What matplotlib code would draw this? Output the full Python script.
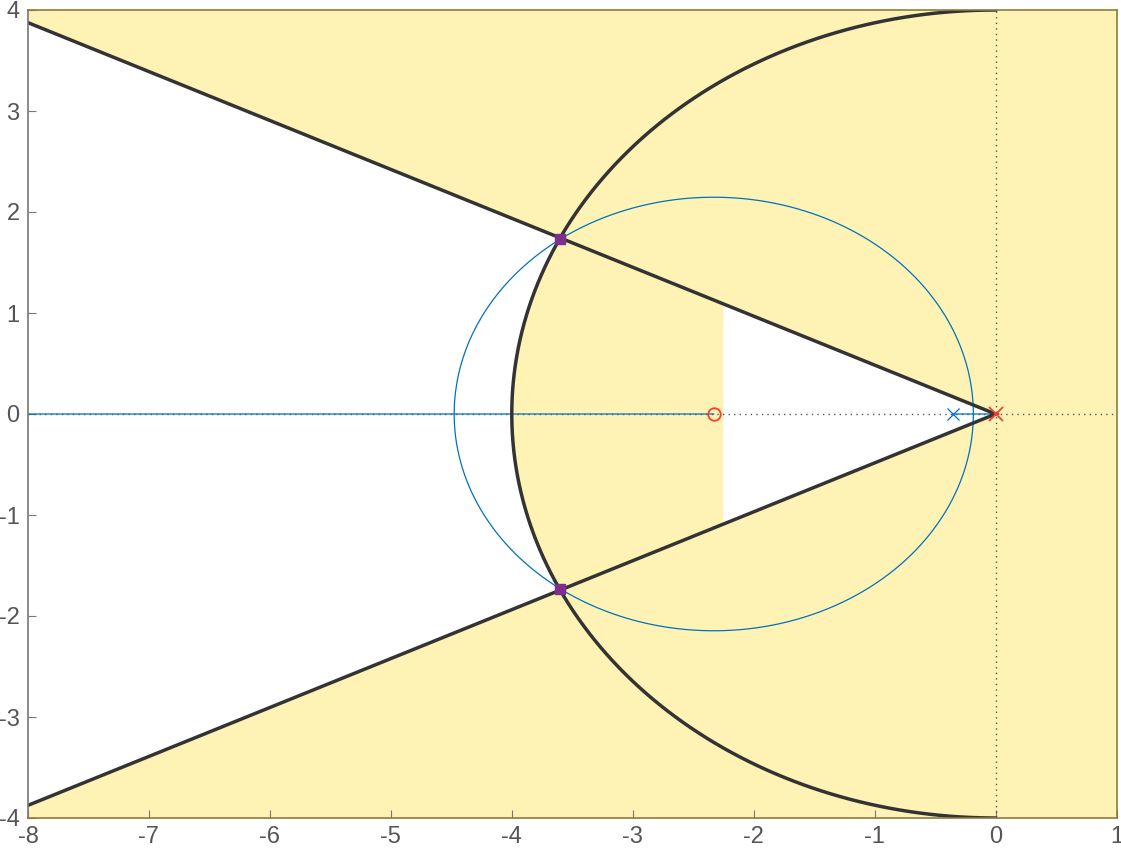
import numpy as np
import matplotlib
matplotlib.use('Agg')
import matplotlib.pyplot as plt

# open-loop model
comp_pole = [0.0]
comp_zero = [-2.33]
plant_pole = [-0.353]
gain = 6.85

# design requirements
zeta = 0.9          # damping ratio bound
wn = 4.0            # natural frequency bound
sigma = -2.25       # settling time bound (real part)

xticks = [-8, -7, -6, -5, -4, -3, -2, -1, 0, 1]
yticks = [-4, -3, -2, -1, 0, 1, 2, 3, 4]

yellow = '#FFF2B5'
olive = '#8C7C3C'
dark = '#333333'
blue = '#0072BD'
red = '#FF3B30'
purple = '#7E2F8E'

plt.rcParams['font.family'] = ['Liberation Sans', 'DejaVu Sans']
plt.rcParams['xtick.labelsize'] = 17
plt.rcParams['ytick.labelsize'] = 17

fig = plt.figure(figsize=(11.21, 8.48), dpi=100)
ax = fig.add_axes([28 / 1121, 1 - 818 / 848, (1116.5 - 28) / 1121, (818 - 10) / 848])
ax.set_xlim(-8, 1)
ax.set_ylim(-4, 4)
ax.set_facecolor(yellow)

# white (allowed) regions
th = np.arccos(zeta)
slope = np.tan(th)
xl = -8
ang_c = np.pi - th
arc = np.linspace(ang_c, 2 * np.pi - ang_c, 200)
wx = [xl] + list(wn * np.cos(arc)) + [xl]
wy = [-xl * slope] + list(wn * np.sin(arc)) + [xl * slope]
ax.fill(wx, wy, color='white', lw=0, zorder=1)
ax.fill([0, sigma, sigma], [0, -sigma * slope, sigma * slope], color='white', lw=0, zorder=1)

# reference dotted axes
ax.axhline(0, color='#555555', ls=(0, (1, 3)), lw=1, zorder=2)
ax.axvline(0, color='#555555', ls=(0, (1, 3)), lw=1, zorder=2)

# root locus
den = np.poly(comp_pole + plant_pole)
num = np.concatenate([[0] * 1, np.poly(comp_zero)])
# gains where the two branches meet (discriminant of the char. polynomial = 0)
d1, d0 = den[1], den[2]
n0 = num[2]
k_meet = np.roots([1, 2 * d1 - 4 * n0, d1 ** 2 - 4 * d0]).real
ks = np.concatenate([np.logspace(-5, 4, 6000), k_meet])
for km in k_meet:
    ks = np.concatenate([ks, km * (1 + np.linspace(-0.05, 0.05, 401))])
ks = np.unique(ks[ks >= 0])
br_a, br_b = [], []
for k in ks:
    r = np.roots(np.polyadd(den, k * num))
    if abs(r[0].imag) > 1e-9:
        r = sorted(r, key=lambda z: -z.imag)
    else:
        r = sorted(r, key=lambda z: -z.real)
    br_a.append(r[0])
    br_b.append(r[1])
br_a = np.array(br_a)
br_b = np.array(br_b)
ax.plot(br_a.real, br_a.imag, color=blue, lw=0.9, zorder=3)
ax.plot(br_b.real, br_b.imag, color=blue, lw=0.9, zorder=3)

# requirement boundaries
ax.plot([xl, 0, xl], [-xl * slope, 0, xl * slope], color=dark, lw=2.5, zorder=4,
        solid_joinstyle='miter')
arc2 = np.linspace(np.pi / 2, 3 * np.pi / 2, 300)
ax.plot(wn * np.cos(arc2), wn * np.sin(arc2), color=dark, lw=2.5, zorder=4)

# poles / zeros
ax.plot(plant_pole, [0], 'x', color=blue, ms=8, mew=0.9, zorder=5)
ax.plot(comp_pole, [0], 'x', color=red, ms=10, mew=1.3, zorder=5)
ax.plot(comp_zero, [0], 'o', color=red, mfc='none', ms=9, mew=1.3, zorder=5)

# closed-loop poles
cl = np.roots(np.polyadd(den, gain * num))
ax.plot(cl.real, cl.imag, 's', color=purple, ms=7, zorder=6)

ax.set_xticks(xticks)
ax.set_yticks(yticks)
ax.set_xticklabels([str(t) for t in xticks])
ax.set_yticklabels([str(t) for t in yticks])
ax.tick_params(direction='in', length=6, color='#777777', labelcolor='#555555',
               top=False, right=False)
ax.tick_params(axis='x', pad=6)
ax.tick_params(axis='y', pad=6)
for s in ['top', 'right', 'bottom']:
    ax.spines[s].set_color(olive)
ax.spines['left'].set_color('#777777')
for s in ax.spines.values():
    s.set_linewidth(1.2)
    s.set_zorder(7)

fig.savefig('out.png', dpi=100)
